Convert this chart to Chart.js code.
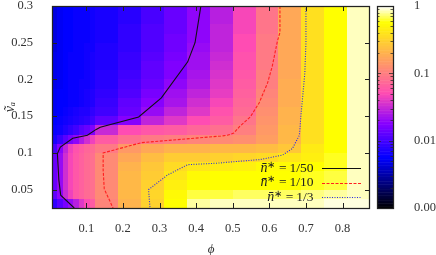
<!DOCTYPE html>
<html>
<head>
<meta charset="utf-8">
<style>
  html, body { margin: 0; padding: 0; background: #fff; }
  canvas { display: block; }
</style>
<script src="https://cdn.jsdelivr.net/npm/chart.js@4/dist/chart.umd.min.js"></script>
</head>
<body>
<canvas id="map" width="436" height="255"></canvas>
<script>
// cell edges of the map
var phiEdges = [0.00625, 0.02, 0.035, 0.05, 0.0625, 0.08, 0.095, 0.11, 0.125, 0.1875, 0.25, 0.3125, 0.375, 0.4375, 0.5, 0.5625, 0.625, 0.6875, 0.75, 0.8125, 0.875];
var vaEdges = [0.3, 0.2875, 0.275, 0.2625, 0.25, 0.2375, 0.225, 0.2125, 0.2, 0.1875, 0.175, 0.1625, 0.15, 0.1375, 0.125, 0.1125, 0.1, 0.0875, 0.075, 0.0625, 0.05, 0.0375, 0.025];

// colour of each cell: 0 = bottom (0.001), 100 = top (1)
var shades = [
  [22,24,25,25,26,26,26,27,28,30,34,38,43,48,56,65,75,86,92,98],
  [22,24,25,25,26,26,26,27,28,30,34,38,43,48,56,65,75,86,92,98],
  [22,24,25,25,26,26,26,27,28,31,35,38,43,49,56,65,75,86,92,98],
  [22,24,25,25,26,26,26,27,28,31,35,39,43,49,57,66,75,86,92,98],
  [22,24,25,25,26,26,27,27,29,31,35,39,44,49,57,66,75,86,92,98],
  [23,24,25,26,26,26,27,28,29,32,36,40,45,50,58,66,75,86,92,98],
  [23,24,25,26,26,26,27,28,29,32,37,41,45,51,58,66,75,86,92,98],
  [23,24,25,26,26,26,27,28,30,33,37,41,46,52,59,67,75,86,92,98],
  [23,24,25,26,26,27,27,28,30,34,38,43,47,53,60,67,76,86,92,98],
  [24,25,25,26,26,27,28,29,31,35,40,45,49,54,61,68,76,86,92,98],
  [24,25,25,26,26,27,28,29,32,37,42,46,51,56,62,69,76,86,92,98],
  [24,25,26,27,28,29,29,31,33,38,44,49,53,58,63,70,77,86,92,98],
  [25,26,27,28,29,30,31,33,37,42,49,53,57,60,65,71,77,86,92,98],
  [26,27,29,31,33,36,38,41,50,57,59,60,62,64,67,72,78,86,92,98],
  [28,32,36,40,43,47,51,55,60,64,66,67,68,69,70,73,78,86,92,98],
  [34,42,49,55,58,60,62,63,66,72,75,77,77,78,78,79,81,88,92,98],
  [38,44,51,56,59,61,63,64,69,75,79,82,82,83,84,85,87,89,93,98],
  [38,44,51,56,59,61,63,64,69,77,81,85,87,88,89,91,91,92,93,98],
  [38,44,51,56,59,61,63,64,69,78,82,87,91,92,92,92,92,93,94,98],
  [38,44,51,56,59,61,63,64,69,78,83,89,92,92,92,92,92,93,94,98],
  [37,43,50,55,59,61,63,64,69,78,84,91,94,94,95,95,95,96,97,98],
  [31,36,40,44,48,53,57,60,68,77,83,92,97,98,98,98,98,98,99,99]
];

// contour lines
var line50Phi = [0.413, 0.397, 0.377, 0.305, 0.243, 0.138, 0.127, 0.103, 0.063, 0.029, 0.021, 0.025, 0.030, 0.067];
var line50Va = [0.3, 0.25, 0.224, 0.175, 0.149, 0.135, 0.132, 0.124, 0.12, 0.108, 0.099, 0.063, 0.0425, 0.025];
var line10Phi = [0.629, 0.629, 0.622, 0.608, 0.595, 0.572, 0.548, 0.519, 0.503, 0.485, 0.468, 0.251, 0.146, 0.146, 0.149, 0.173];
var line10Va = [0.3, 0.264, 0.252, 0.218, 0.195, 0.168, 0.149, 0.136, 0.127, 0.124, 0.123, 0.114, 0.1, 0.077, 0.051, 0.025];
var line3Phi = [0.7, 0.7, 0.697, 0.686, 0.684, 0.682, 0.663, 0.636, 0.575, 0.456, 0.377, 0.322, 0.27, 0.274];
var line3Va = [0.3, 0.25, 0.209, 0.149, 0.135, 0.124, 0.106, 0.097, 0.091, 0.086, 0.084, 0.07, 0.05, 0.025];

var phiTicks = [0.1, 0.2, 0.3, 0.4, 0.5, 0.6, 0.7, 0.8];
var vaTicks = [0.05, 0.1, 0.15, 0.2, 0.25, 0.3];
var cbTicks = [0.001, 0.01, 0.1, 1];
var cbMinor = [2, 3, 4, 5, 6, 7, 8, 9];

var FONT = '"Liberation Serif", serif';
var TEXT = "#333";

// gnuplot rgbformulae 30,31,32
function clamp(v) { return Math.max(0, Math.min(1, v)); }
function palette(x) {
  var r = clamp(x / 0.32 - 0.78125);
  var g = clamp(2 * x - 0.84);
  var b;
  if (x < 0.25) b = 4 * x;
  else if (x < 0.42) b = 1;
  else if (x < 0.92) b = -2 * x + 1.84;
  else b = x / 0.08 - 11.5;
  return "rgb(" + Math.round(r * 255) + "," + Math.round(g * 255) + "," + Math.round(clamp(b) * 255) + ")";
}

function toPoints(xs, ys) {
  return xs.map(function(x, i) { return { x: x, y: ys[i] }; });
}

var cells = [];
shades.forEach(function(row, r) {
  row.forEach(function(s, c) {
    cells.push({ x: (phiEdges[c] + phiEdges[c + 1]) / 2, y: (vaEdges[r] + vaEdges[r + 1]) / 2, c: c, r: r, v: Math.pow(10, 3 * s / 100 - 3) });
  });
});

var heatmap = {
  id: "heatmap",
  beforeDatasetsDraw: function(chart) {
    var ctx = chart.ctx, x = chart.scales.x, y = chart.scales.y, y2 = chart.scales.y2;
    cells.forEach(function(p) {
      var x0 = Math.round(x.getPixelForValue(phiEdges[p.c]));
      var x1 = Math.round(x.getPixelForValue(phiEdges[p.c + 1]));
      var y0 = Math.round(y.getPixelForValue(vaEdges[p.r]));
      var y1 = Math.round(y.getPixelForValue(vaEdges[p.r + 1]));
      ctx.fillStyle = palette((Math.log10(p.v) + 3) / 3);
      ctx.fillRect(x0, y0, x1 - x0, y1 - y0);
    });
    // colour box, same palette up the log scale
    for (var i = 0; i < 128; i++) {
      var top = y2.getPixelForValue(Math.pow(10, -3 + 3 * (i + 1) / 128));
      var bot = y2.getPixelForValue(Math.pow(10, -3 + 3 * i / 128));
      ctx.fillStyle = palette((i + 0.5) / 128);
      ctx.fillRect(377, top, 16, bot - top + 0.5);
    }
  },
  afterDatasetsDraw: function(chart) {
    var ctx = chart.ctx, a = chart.chartArea, x = chart.scales.x, y = chart.scales.y, y2 = chart.scales.y2;
    ctx.save();
    ctx.strokeStyle = "#222";
    ctx.lineWidth = 1;
    ctx.beginPath();
    phiTicks.forEach(function(t) {
      var px = Math.round(x.getPixelForValue(t)) + 0.5;
      ctx.moveTo(px, a.bottom); ctx.lineTo(px, a.bottom - 5);
      ctx.moveTo(px, a.top); ctx.lineTo(px, a.top + 5);
    });
    vaTicks.forEach(function(t) {
      var py = Math.round(y.getPixelForValue(t)) + 0.5;
      ctx.moveTo(a.left, py); ctx.lineTo(a.left + 5, py);
      ctx.moveTo(a.right, py); ctx.lineTo(a.right - 5, py);
    });
    ctx.stroke();
    ctx.strokeStyle = "rgba(40,40,40,0.75)";
    ctx.beginPath();
    cbTicks.forEach(function(t) {
      var py = Math.round(y2.getPixelForValue(t)) + 0.5;
      ctx.moveTo(377, py); ctx.lineTo(381, py);
      ctx.moveTo(393, py); ctx.lineTo(389, py);
      if (t < 1) {
        cbMinor.forEach(function(m) {
          var pm = Math.round(y2.getPixelForValue(t * m)) + 0.5;
          ctx.moveTo(377, pm); ctx.lineTo(379.5, pm);
          ctx.moveTo(393, pm); ctx.lineTo(390.5, pm);
        });
      }
    });
    ctx.stroke();
    ctx.strokeStyle = "#222";
    ctx.lineWidth = 1.25;
    ctx.strokeRect(a.left + 0.5, a.top + 0.5, a.right - a.left - 1, a.bottom - a.top);
    ctx.strokeRect(377.5, a.top + 0.5, 16, a.bottom - a.top);

    // key, the number ends at the same x on every row
    var keyY = [168, 182.5, 197];
    var keyRight = 313.5;
    ctx.textBaseline = "middle";
    ctx.fillStyle = "#222";
    ctx.lineWidth = 1;
    chart.data.datasets.slice(1).forEach(function(ds, i) {
      ctx.font = "13.5px " + FONT;
      ctx.textAlign = "right";
      var w = ctx.measureText(ds.label).width;
      var numLeft = keyRight - w;
      ctx.fillText(ds.label, keyRight, keyY[i]);
      ctx.fillText("=", numLeft - 3, keyY[i]);
      ctx.font = "10px " + FONT;
      ctx.fillText("\u2217", numLeft - 14, keyY[i] - 3);
      ctx.font = "italic 14px " + FONT;
      ctx.fillText("n\u0304", numLeft - 22, keyY[i]);
      ctx.strokeStyle = ds.borderColor;
      ctx.setLineDash(ds.borderDash || []);
      ctx.beginPath();
      ctx.moveTo(322, Math.round(keyY[i]) + 0.5);
      ctx.lineTo(361, Math.round(keyY[i]) + 0.5);
      ctx.stroke();
    });
    ctx.restore();
  }
};

function lineSet(label, xs, ys, color, dash) {
  return { type: "scatter", label: label, data: toPoints(xs, ys), showLine: true, borderColor: color, borderWidth: 1.1, borderDash: dash, pointRadius: 0, tension: 0, fill: false };
}

function fitWidth(w) {
  return function(s) { s.width = w; s.paddingTop = 0; s.paddingBottom = 0; s.paddingLeft = 0; s.paddingRight = 0; };
}

new Chart(document.getElementById("map").getContext("2d"), {
  type: "scatter",
  data: {
    datasets: [
      { label: "cells", data: cells, pointRadius: 0, showLine: false },
      lineSet("1/50", line50Phi, line50Va, "#111", []),
      lineSet("1/10", line10Phi, line10Va, "#ff2020", [3, 1.5]),
      lineSet("1/3", line3Phi, line3Va, "#2828e8", [1, 1.5])
    ]
  },
  plugins: [heatmap],
  options: {
    responsive: false,
    animation: false,
    events: [],
    layout: { padding: { top: 6, left: 0, right: 0, bottom: 0 } },
    plugins: { legend: { display: false }, tooltip: { enabled: false } },
    scales: {
      x: {
        type: "linear",
        min: phiEdges[0],
        max: phiEdges[phiEdges.length - 1],
        afterFit: function(s) { s.height = 47; s.paddingTop = 0; s.paddingBottom = 0; s.paddingLeft = 0; s.paddingRight = 0; },
        afterBuildTicks: function(s) { s.ticks = phiTicks.map(function(v) { return { value: v }; }); },
        grid: { display: false },
        border: { display: false },
        ticks: { padding: 5, maxRotation: 0, color: TEXT, font: { family: FONT, size: 12.5 }, callback: function(v) { return String(v); } },
        title: { display: true, text: "\u03d5", color: TEXT, padding: { top: 8, bottom: -2 }, font: { family: FONT, size: 13, style: "italic" } }
      },
      y: {
        type: "linear",
        min: vaEdges[vaEdges.length - 1],
        max: vaEdges[0],
        afterFit: fitWidth(52),
        afterBuildTicks: function(s) { s.ticks = vaTicks.map(function(v) { return { value: v }; }); },
        grid: { display: false },
        border: { display: false },
        ticks: { padding: 11, color: TEXT, font: { family: FONT, size: 12.5 }, callback: function(v) { return String(v); } },
        title: { display: true, text: "v\u0303\u2090", color: TEXT, padding: { top: 2, bottom: 0 }, font: { family: FONT, size: 14, style: "italic" } }
      },
      y2: {
        type: "logarithmic",
        position: "right",
        min: 0.001,
        max: 1,
        afterFit: fitWidth(66),
        afterBuildTicks: function(s) { s.ticks = cbTicks.map(function(v) { return { value: v }; }); },
        grid: { display: false },
        border: { display: false },
        ticks: { padding: 36, crossAlign: "near", color: TEXT, font: { family: FONT, size: 12.5 }, callback: function(v) { return String(v); } }
      }
    }
  }
});
</script>
</body>
</html>
